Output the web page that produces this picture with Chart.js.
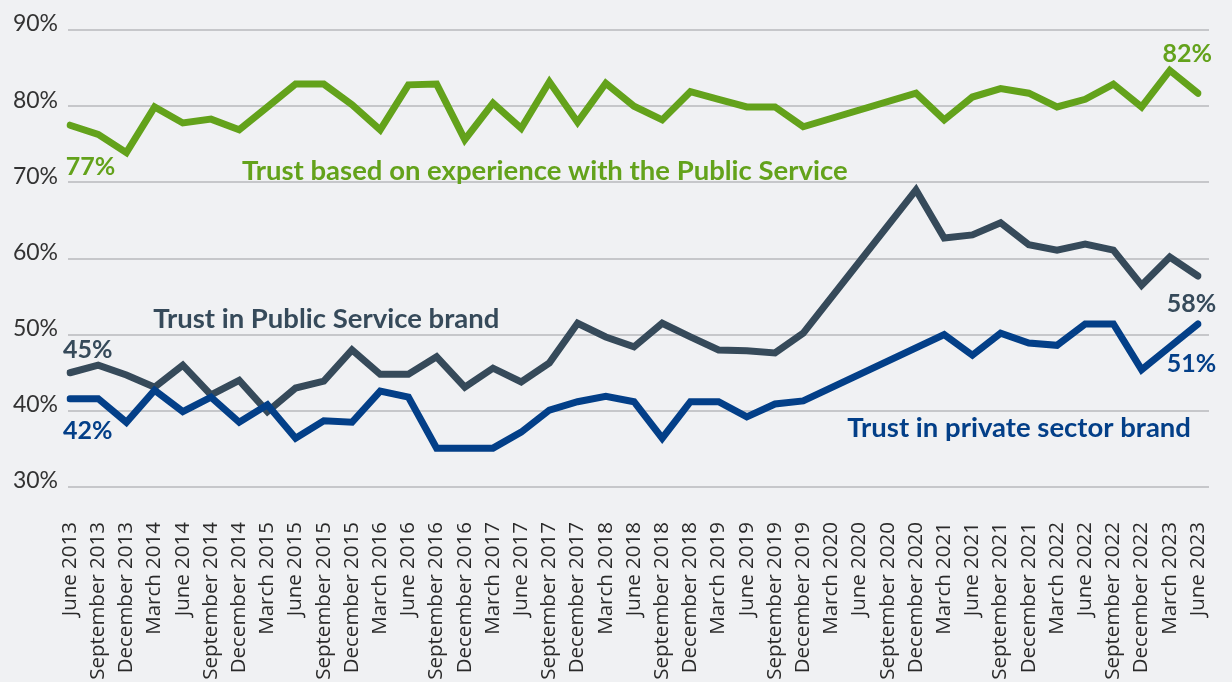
<!DOCTYPE html>
<html>
<head>
<meta charset="utf-8">
<script src="https://cdn.jsdelivr.net/npm/chart.js@4/dist/chart.umd.min.js"></script>
<style>
  html, body { margin: 0; padding: 0; background: #f0f1f3; }
  #wrap { width: 1232px; height: 682px; position: relative; }
</style>
</head>
<body>
<div id="wrap"><canvas id="myChart"></canvas></div>
<script>
let quarters = ["June 2013", "September 2013", "December 2013",
    "March 2014", "June 2014", "September 2014", "December 2014",
    "March 2015", "June 2015", "September 2015", "December 2015",
    "March 2016", "June 2016", "September 2016", "December 2016",
    "March 2017", "June 2017", "September 2017", "December 2017",
    "March 2018", "June 2018", "September 2018", "December 2018",
    "March 2019", "June 2019", "September 2019", "December 2019",
    "March 2020", "June 2020", "September 2020", "December 2020",
    "March 2021", "June 2021", "September 2021", "December 2021",
    "March 2022", "June 2022", "September 2022", "December 2022",
    "March 2023", "June 2023"]

// no survey points between December 2019 and December 2020
let experience = [77.5, 76.3, 73.9, 79.9, 77.8, 78.3, 76.9, 79.9, 82.9, 82.9, 80.2,
    76.9, 82.8, 82.9, 75.6, 80.4, 77.1, 83.2, 77.9, 83.0, 80.0, 78.2, 81.9,
    80.9, 79.9, 79.9, 77.3, null, null, null, 81.7, 78.2, 81.2, 82.3, 81.7,
    79.9, 80.9, 82.9, 79.9, 84.7, 81.7]

let publicBrand = [45.0, 46.0, 44.7, 43.1, 46.0, 42.1, 44.0, 39.9, 43.0, 43.9, 48.0,
    44.8, 44.8, 47.1, 43.1, 45.6, 43.8, 46.3, 51.5, 49.7, 48.4, 51.5, 49.7,
    48.0, 47.9, 47.6, 50.2, null, null, null, 69.0, 62.7, 63.1, 64.7, 61.8,
    61.1, 61.9, 61.1, 56.5, 60.2, 57.7]

let privateBrand = [41.6, 41.6, 38.5, 42.7, 39.9, 41.8, 38.5, 40.8, 36.4, 38.7, 38.5,
    42.6, 41.8, 35.1, 35.1, 35.1, 37.2, 40.1, 41.2, 41.9, 41.2, 36.4, 41.2,
    41.2, 39.2, 40.9, 41.3, null, null, null, null, 50.0, 47.3, 50.2, 48.9,
    48.6, 51.4, 51.4, 45.4, 48.4, 51.4]

let yTicks = [30, 40, 50, 60, 70, 80, 90]

let green = "#63a21b"
let slate = "#364a5a"
let navy = "#033f88"

// text labels: [text, category position, value, colour, align, font size]
let notes = [
    ["77%", -0.15, 71.0, green, "left", 25],
    ["Trust based on experience with the Public Service", 6.1, 70.3, green, "left", 27.5],
    ["82%", 40.5, 85.8, green, "right", 25],
    ["Trust in Public Service brand", 2.95, 50.9, slate, "left", 27.5],
    ["45%", -0.25, 46.9, slate, "left", 25],
    ["58%", 40.65, 53.0, slate, "right", 25],
    ["42%", -0.25, 36.3, navy, "left", 25],
    ["51%", 40.65, 45.1, navy, "right", 25],
    ["Trust in private sector brand", 39.75, 36.6, navy, "right", 27.5],
]

let gridPlugin = {
    id: "grid",
    beforeDatasetsDraw(chart) {
        let ctx = chart.ctx
        let y = chart.scales.y
        let area = chart.chartArea
        ctx.save()
        ctx.strokeStyle = "#c6c7ca"
        ctx.lineWidth = 2
        yTicks.forEach(t => {
            let py = Math.round(y.getPixelForValue(t))
            ctx.beginPath()
            ctx.moveTo(area.left - 2, py)
            ctx.lineTo(area.right + 11, py)
            ctx.stroke()
        })
        ctx.restore()
    }
}

let notePlugin = {
    id: "notes",
    afterDatasetsDraw(chart) {
        let ctx = chart.ctx
        let x = chart.scales.x
        let y = chart.scales.y
        ctx.save()
        ctx.textBaseline = "alphabetic"
        notes.forEach(n => {
            ctx.font = "bold " + n[5] + "px Lato"
            ctx.fillStyle = n[3]
            ctx.textAlign = n[4]
            ctx.fillText(n[0], x.getPixelForValue(n[1]), y.getPixelForValue(n[2]))
        })
        ctx.restore()
    }
}

new Chart("myChart", {
    type: "line",
    data: {
        labels: quarters,
        datasets: [
            { data: experience, borderColor: green, order: 0 },
            { data: privateBrand, borderColor: navy, order: 1 },
            { data: publicBrand, borderColor: slate, order: 2 },
        ]
    },
    options: {
        responsive: true,
        maintainAspectRatio: false,
        animation: false,
        spanGaps: true,
        layout: { padding: { top: 30, right: 34, left: 0, bottom: 0 } },
        elements: {
            line: { borderWidth: 7, tension: 0, borderJoinStyle: "miter", borderCapStyle: "round" },
            point: { radius: 0, hoverRadius: 0 }
        },
        plugins: {
            legend: { display: false },
            tooltip: { enabled: false }
        },
        scales: {
            x: {
                offset: false,
                grid: { display: false, drawTicks: false },
                border: { display: false },
                afterFit: s => {
                    s.height = 195
                    s.paddingLeft = 0
                    s.paddingRight = 0
                },
                ticks: {
                    autoSkip: false,
                    minRotation: 90,
                    maxRotation: 90,
                    padding: 35,
                    color: "#2a2a2a",
                    font: { family: "Open Sans", size: 20.5 }
                }
            },
            y: {
                min: 30,
                max: 90,
                grid: { display: false, drawTicks: false },
                border: { display: false },
                afterFit: s => { s.width = 70 },
                afterBuildTicks: s => { s.ticks = yTicks.map(v => ({ value: v })) },
                ticks: {
                    padding: 12,
                    labelOffset: -6,
                    color: "#333333",
                    font: { family: "Lato", size: 23 },
                    callback: v => v + "%"
                }
            }
        }
    },
    plugins: [gridPlugin, notePlugin]
})
</script>
</body>
</html>
